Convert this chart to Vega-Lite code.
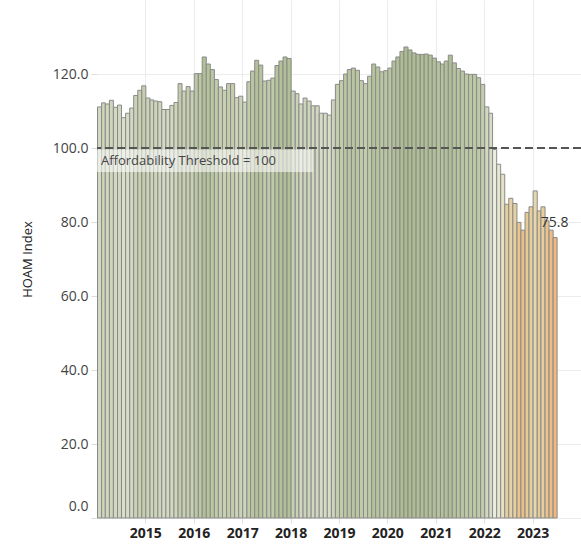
{
  "$schema": "https://vega.github.io/schema/vega-lite/v6.json",
  "width": 484,
  "height": 518,
  "autosize": "none",
  "padding": {"left": 97, "top": 0, "right": 0, "bottom": 30},
  "config": {"view": {"stroke": null}, "font": "Open Sans"},
  "datasets": {
    "hoam": [
      {"date": "2014-01-01", "v": 111.1}, {"date": "2014-02-01", "v": 112.2}, {"date": "2014-03-01", "v": 111.9}, {"date": "2014-04-01", "v": 112.9},
      {"date": "2014-05-01", "v": 111.0}, {"date": "2014-06-01", "v": 111.6}, {"date": "2014-07-01", "v": 108.2}, {"date": "2014-08-01", "v": 109.4},
      {"date": "2014-09-01", "v": 110.8}, {"date": "2014-10-01", "v": 114.2}, {"date": "2014-11-01", "v": 115.6}, {"date": "2014-12-01", "v": 116.8},
      {"date": "2015-01-01", "v": 113.5}, {"date": "2015-02-01", "v": 113.0}, {"date": "2015-03-01", "v": 112.7}, {"date": "2015-04-01", "v": 112.5},
      {"date": "2015-05-01", "v": 110.4}, {"date": "2015-06-01", "v": 110.4}, {"date": "2015-07-01", "v": 111.5}, {"date": "2015-08-01", "v": 112.3},
      {"date": "2015-09-01", "v": 117.4}, {"date": "2015-10-01", "v": 115.4}, {"date": "2015-11-01", "v": 116.6}, {"date": "2015-12-01", "v": 115.4},
      {"date": "2016-01-01", "v": 120.1}, {"date": "2016-02-01", "v": 120.1}, {"date": "2016-03-01", "v": 124.6}, {"date": "2016-04-01", "v": 122.7},
      {"date": "2016-05-01", "v": 121.2}, {"date": "2016-06-01", "v": 118.5}, {"date": "2016-07-01", "v": 116.5}, {"date": "2016-08-01", "v": 115.6},
      {"date": "2016-09-01", "v": 117.4}, {"date": "2016-10-01", "v": 117.4}, {"date": "2016-11-01", "v": 113.6}, {"date": "2016-12-01", "v": 114.0},
      {"date": "2017-01-01", "v": 112.4}, {"date": "2017-02-01", "v": 117.9}, {"date": "2017-03-01", "v": 120.8}, {"date": "2017-04-01", "v": 123.7},
      {"date": "2017-05-01", "v": 122.4}, {"date": "2017-06-01", "v": 118.1}, {"date": "2017-07-01", "v": 118.3}, {"date": "2017-08-01", "v": 118.9},
      {"date": "2017-09-01", "v": 122.3}, {"date": "2017-10-01", "v": 123.5}, {"date": "2017-11-01", "v": 124.6}, {"date": "2017-12-01", "v": 124.2},
      {"date": "2018-01-01", "v": 115.4}, {"date": "2018-02-01", "v": 114.7}, {"date": "2018-03-01", "v": 111.9}, {"date": "2018-04-01", "v": 113.5},
      {"date": "2018-05-01", "v": 112.7}, {"date": "2018-06-01", "v": 111.4}, {"date": "2018-07-01", "v": 111.4}, {"date": "2018-08-01", "v": 109.4},
      {"date": "2018-09-01", "v": 109.4}, {"date": "2018-10-01", "v": 108.9}, {"date": "2018-11-01", "v": 113.0}, {"date": "2018-12-01", "v": 117.2},
      {"date": "2019-01-01", "v": 118.2}, {"date": "2019-02-01", "v": 120.0}, {"date": "2019-03-01", "v": 121.2}, {"date": "2019-04-01", "v": 121.6},
      {"date": "2019-05-01", "v": 121.0}, {"date": "2019-06-01", "v": 118.2}, {"date": "2019-07-01", "v": 117.4}, {"date": "2019-08-01", "v": 119.4},
      {"date": "2019-09-01", "v": 122.7}, {"date": "2019-10-01", "v": 121.9}, {"date": "2019-11-01", "v": 120.6}, {"date": "2019-12-01", "v": 120.9},
      {"date": "2020-01-01", "v": 121.6}, {"date": "2020-02-01", "v": 123.5}, {"date": "2020-03-01", "v": 124.6}, {"date": "2020-04-01", "v": 126.1},
      {"date": "2020-05-01", "v": 127.3}, {"date": "2020-06-01", "v": 126.5}, {"date": "2020-07-01", "v": 125.7}, {"date": "2020-08-01", "v": 125.3},
      {"date": "2020-09-01", "v": 125.3}, {"date": "2020-10-01", "v": 125.4}, {"date": "2020-11-01", "v": 125.1}, {"date": "2020-12-01", "v": 124.3},
      {"date": "2021-01-01", "v": 123.3}, {"date": "2021-02-01", "v": 122.7}, {"date": "2021-03-01", "v": 123.5}, {"date": "2021-04-01", "v": 125.1},
      {"date": "2021-05-01", "v": 123.0}, {"date": "2021-06-01", "v": 121.5}, {"date": "2021-07-01", "v": 120.8}, {"date": "2021-08-01", "v": 120.0},
      {"date": "2021-09-01", "v": 119.9}, {"date": "2021-10-01", "v": 119.9}, {"date": "2021-11-01", "v": 119.0}, {"date": "2021-12-01", "v": 117.2},
      {"date": "2022-01-01", "v": 111.1}, {"date": "2022-02-01", "v": 109.4}, {"date": "2022-03-01", "v": 99.6}, {"date": "2022-04-01", "v": 95.6},
      {"date": "2022-05-01", "v": 92.9}, {"date": "2022-06-01", "v": 84.8}, {"date": "2022-07-01", "v": 86.4}, {"date": "2022-08-01", "v": 85.0},
      {"date": "2022-09-01", "v": 79.9}, {"date": "2022-10-01", "v": 77.8}, {"date": "2022-11-01", "v": 82.6}, {"date": "2022-12-01", "v": 84.1},
      {"date": "2023-01-01", "v": 88.4}, {"date": "2023-02-01", "v": 83.0}, {"date": "2023-03-01", "v": 84.1}, {"date": "2023-04-01", "v": 80.3},
      {"date": "2023-05-01", "v": 77.8}, {"date": "2023-06-01", "v": 75.8}
    ],
    "note": [
      {"x1": "2014-01-01", "x2": "2018-06-18", "y1": 93.5, "y2": 99.6, "label": "Affordability Threshold = 100", "ty": 96.6}
    ],
    "last": [
      {"date": "2023-06-16", "v": 75.8, "label": "75.8"}
    ]
  },
  "layer": [
    {
      "data": {"name": "hoam"},
      "mark": {"type": "bar", "stroke": "#8a8a8a", "strokeWidth": 1, "binSpacing": 0},
      "encoding": {
        "x": {
          "field": "date", "timeUnit": "utcyearmonth", "type": "temporal",
          "scale": {"type": "utc", "domain": [{"year": 2014, "month": 1, "date": 1, "utc": true}, {"year": 2024, "month": 1, "date": 1, "utc": true}]},
          "axis": {
            "title": null, "format": "%Y",
            "values": [
              {"year": 2015, "month": 1, "date": 1, "utc": true}, {"year": 2016, "month": 1, "date": 1, "utc": true},
              {"year": 2017, "month": 1, "date": 1, "utc": true}, {"year": 2018, "month": 1, "date": 1, "utc": true},
              {"year": 2019, "month": 1, "date": 1, "utc": true}, {"year": 2020, "month": 1, "date": 1, "utc": true},
              {"year": 2021, "month": 1, "date": 1, "utc": true}, {"year": 2022, "month": 1, "date": 1, "utc": true},
              {"year": 2023, "month": 1, "date": 1, "utc": true}
            ],
            "labelFontWeight": "bold", "labelFontSize": 14, "labelColor": "#222",
            "tickColor": "#dddddd", "tickSize": 5, "labelPadding": 3,
            "domain": false, "gridColor": "#ececec", "labelFlush": false, "labelOverlap": false
          }
        },
        "y": {
          "field": "v", "type": "quantitative",
          "scale": {"domain": [0, 140], "nice": false},
          "axis": {
            "title": "HOAM Index", "values": [0, 20, 40, 60, 80, 100, 120], "format": ".1f",
            "labelFontSize": 14, "labelColor": "#444", "tickColor": "#dddddd", "tickSize": 6, "labelPadding": 3,
            "domain": false, "gridColor": "#ececec",
            "labelFlush": false,
            "labelOffset": {"condition": {"test": "datum.value === 0", "value": -12}, "value": 0},
            "titleFontSize": 13, "titleFontWeight": "normal", "titleColor": "#222",
            "titleX": -70, "titleY": 259, "titleAlign": "center", "titleBaseline": "middle", "titleAngle": -90
          }
        },
        "fill": {
          "field": "v", "type": "quantitative",
          "scale": {"domain": [72.4, 100, 127.6], "range": ["#f5ac76", "#eceee4", "#a9ba8c"]},
          "legend": null
        }
      }
    },
    {
      "data": {"name": "note"},
      "mark": {"type": "rect", "fill": "#ffffff", "opacity": 0.55},
      "encoding": {
        "x": {"field": "x1", "type": "temporal"},
        "x2": {"field": "x2"},
        "y": {"field": "y1", "type": "quantitative"},
        "y2": {"field": "y2"}
      }
    },
    {
      "data": {"name": "note"},
      "mark": {"type": "rule", "strokeDash": [8, 4], "strokeWidth": 2, "color": "#555555"},
      "encoding": {"y": {"datum": 100, "type": "quantitative"}}
    },
    {
      "data": {"name": "note"},
      "mark": {"type": "text", "align": "left", "baseline": "middle", "dx": 4, "fontSize": 13, "color": "#444444"},
      "encoding": {
        "x": {"field": "x1", "type": "temporal"},
        "y": {"field": "ty", "type": "quantitative"},
        "text": {"field": "label"}
      }
    },
    {
      "data": {"name": "last"},
      "mark": {"type": "text", "align": "center", "baseline": "bottom", "dy": -8, "fontSize": 14, "color": "#333333"},
      "encoding": {
        "x": {"field": "date", "type": "temporal"},
        "y": {"field": "v", "type": "quantitative"},
        "text": {"field": "label"}
      }
    }
  ]
}
